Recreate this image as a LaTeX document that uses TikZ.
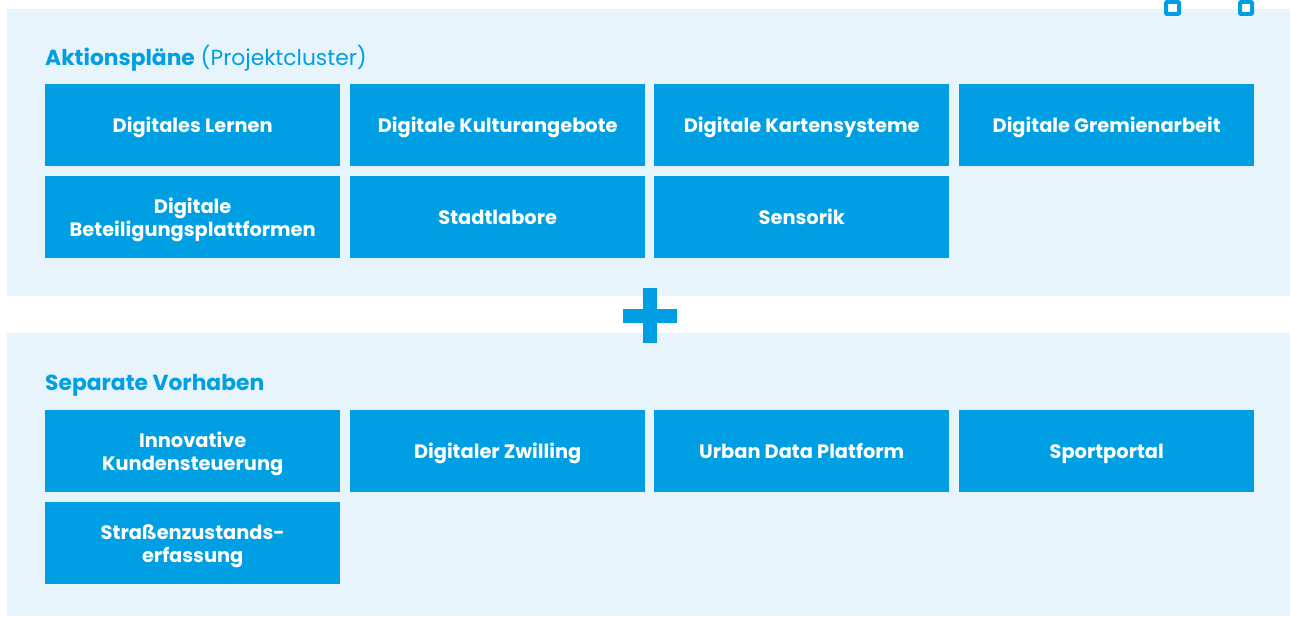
\documentclass[tikz,border=0pt]{standalone}
\usepackage{fontspec}
\setmainfont{Poppins}
\definecolor{boxblue}{HTML}{009FE3}
\definecolor{panel}{HTML}{E7F4FC}
\newcommand{\mycard}[4]{%
  \node[card] (#1) at (#2,#3) {};
  \node[cardtext] (#1-text) at ([yshift=-3pt]#1.center) {#4};}
\begin{document}
\begin{tikzpicture}[x=1pt,y=-1pt,
  card/.style={fill=boxblue, minimum width=295pt, minimum height=82pt,
    inner sep=0pt, anchor=north west},
  cardtext/.style={text=white, inner sep=0pt, align=center, anchor=center,
    font=\fontsize{19.4}{23.5}\selectfont\bfseries},
  paneltitle/.style={anchor=base west, inner sep=0pt, text=boxblue, font=\fontsize{21.8}{26}\selectfont},
  marker/.style={draw=boxblue, line width=4pt, fill=white, rounded corners=1pt}]
\useasboundingbox (0,0) rectangle (1290,617);
\fill[white] (0,0) rectangle (1290,617);
\fill[panel] (7,9) rectangle (1290,296);
\fill[panel] (7,333) rectangle (1290,616);
\draw[marker] (1166,2) rectangle (1179,14);
\draw[marker] (1240,2) rectangle (1252,14);
\fill[boxblue] (643,288) rectangle (657,343);
\fill[boxblue] (623,309) rectangle (677,323);
\node[paneltitle] (t1) at (45,66) {\textbf{Aktionspläne} (Projektcluster)};
\node[paneltitle] (t2) at (45,390) {\textbf{Separate Vorhaben}};
\mycard{a1}{45}{84}{\strut Digitales Lernen}
\mycard{a2}{350}{84}{\strut Digitale Kulturangebote}
\mycard{a3}{654}{84}{\strut Digitale Kartensysteme}
\mycard{a4}{959}{84}{\strut Digitale Gremienarbeit}
\mycard{a5}{45}{176}{\strut Digitale\\\strut Beteiligungsplattformen}
\mycard{a6}{350}{176}{\strut Stadtlabore}
\mycard{a7}{654}{176}{\strut Sensorik}
\mycard{b1}{45}{410}{\strut Innovative\\\strut Kundensteuerung}
\mycard{b2}{350}{410}{\strut Digitaler Zwilling}
\mycard{b3}{654}{410}{\strut Urban Data Platform}
\mycard{b4}{959}{410}{\strut Sportportal}
\mycard{b5}{45}{502}{\strut Straßenzustands-\\\strut erfassung}
\end{tikzpicture}
\end{document}
